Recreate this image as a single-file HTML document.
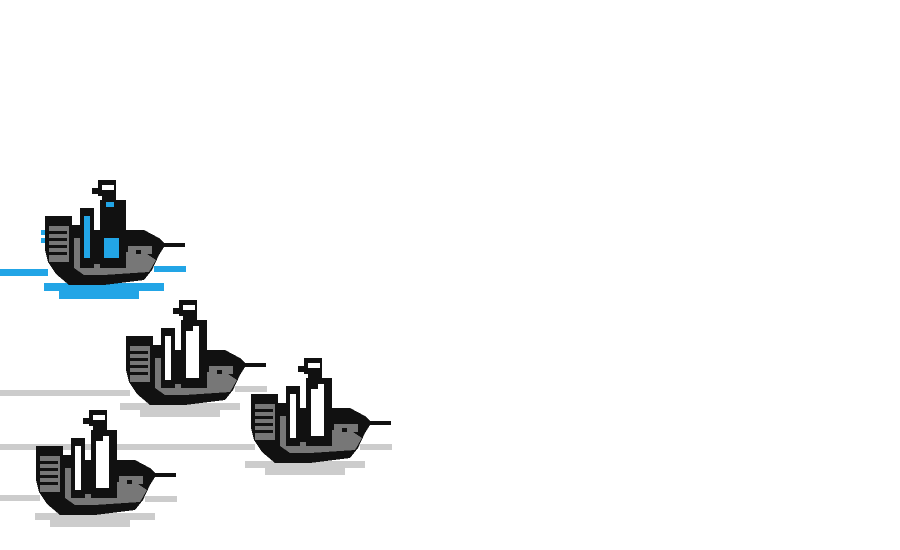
<!DOCTYPE html>
<html><head><style>html,body{margin:0;padding:0;background:#fff;width:900px;height:550px;overflow:hidden}</style></head>
<body>
<svg width="900" height="550" viewBox="0 0 900 550" xmlns="http://www.w3.org/2000/svg" shape-rendering="crispEdges">
<defs>
<g id="hull">
  <polygon fill="#111" points="1,36 28,36 28,45 36,45 36,50 100,50 115,58 120,63 141,63 141,67 120,67 115,75 108,90 100,100 60,105 25,105 12,94 4,82 1,70"/>
  <rect x="5" y="46" width="20" height="36" fill="#777"/>
  <rect x="5" y="51" width="18" height="3" fill="#111"/>
  <rect x="5" y="58" width="18" height="3" fill="#111"/>
  <rect x="5" y="65" width="18" height="3" fill="#111"/>
  <rect x="5" y="72" width="18" height="3" fill="#111"/>
  <polygon fill="#777" points="30,58 38,58 38,84 56,84 56,72 100,72 112,80 105,92 60,95 40,95 30,88"/>
  <rect x="84" y="66" width="24" height="8" fill="#777"/>
  <rect x="92" y="70" width="5" height="4" fill="#111"/>
  <rect x="54" y="0" width="18" height="16" fill="#111"/>
  <rect x="48" y="8" width="8" height="6" fill="#111"/>
  <rect x="58" y="5" width="12" height="5" fill="#fff"/>
  <rect x="58" y="14" width="14" height="8" fill="#111"/>
  <rect x="56" y="20" width="26" height="68" fill="#111"/>
  <rect x="36" y="28" width="14" height="60" fill="#111"/>
</g>
<g id="gship">
  <use href="#hull"/>
  <rect x="61" y="26" width="13" height="52" fill="#fff"/>
  <rect x="61" y="26" width="7" height="5" fill="#111"/>
  <rect x="40" y="36" width="6" height="44" fill="#fff"/>
</g>
</defs>

<!-- wakes -->
<rect x="0" y="269" width="48" height="7" fill="#22a5e6"/>
<rect x="0" y="390" width="130" height="6" fill="#ccc"/>
<rect x="0" y="444" width="255" height="6" fill="#ccc"/>
<rect x="0" y="495" width="40" height="6" fill="#ccc"/>

<!-- blue ship -->
<g transform="translate(44,180)">
  <rect x="110" y="86" width="32" height="6" fill="#22a5e6"/>
  <rect x="0" y="103" width="120" height="8" fill="#22a5e6"/>
  <rect x="15" y="111" width="80" height="8" fill="#22a5e6"/>
  <rect x="-3" y="50" width="5" height="5" fill="#22a5e6"/>
  <rect x="-3" y="58" width="5" height="5" fill="#22a5e6"/>
  <use href="#hull"/>
  <rect x="62" y="22" width="8" height="5" fill="#22a5e6"/>
  <rect x="60" y="58" width="15" height="20" fill="#22a5e6"/>
  <rect x="40" y="36" width="6" height="42" fill="#22a5e6"/>
</g>

<!-- gray ships -->
<g transform="translate(125,300)">
  <rect x="110" y="86" width="32" height="6" fill="#ccc"/>
  <rect x="-5" y="103" width="120" height="7" fill="#ccc"/>
  <rect x="15" y="110" width="80" height="7" fill="#ccc"/>
  <use href="#gship"/>
</g>
<g transform="translate(250,358)">
  <rect x="110" y="86" width="32" height="6" fill="#ccc"/>
  <rect x="-5" y="103" width="120" height="7" fill="#ccc"/>
  <rect x="15" y="110" width="80" height="7" fill="#ccc"/>
  <use href="#gship"/>
</g>
<g transform="translate(35,410)">
  <rect x="110" y="86" width="32" height="6" fill="#ccc"/>
  <rect x="0" y="103" width="120" height="7" fill="#ccc"/>
  <rect x="15" y="110" width="80" height="7" fill="#ccc"/>
  <use href="#gship"/>
</g>
</svg>
</body></html>
